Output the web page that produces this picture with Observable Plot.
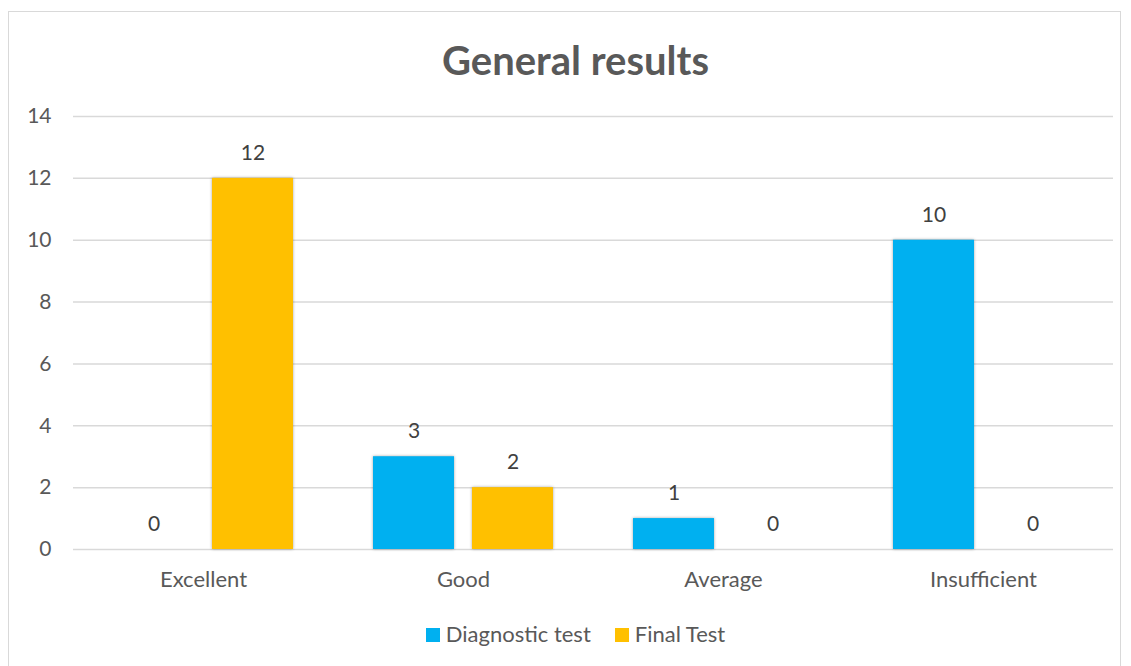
<!DOCTYPE html>
<html>
<head>
<meta charset="utf-8">
<script src="https://cdn.jsdelivr.net/npm/d3@7"></script>
<script src="https://cdn.jsdelivr.net/npm/@observablehq/plot@0.6"></script>
<style>
  html, body { margin: 0; padding: 0; background: #fff; }
  body { width: 1131px; height: 666px; position: relative; overflow: hidden; font-family: Lato, "Open Sans", sans-serif; }
  #frame { position: absolute; left: 8px; top: 11px; width: 1113px; height: 670px; border: 1.5px solid #d9d9d9; box-sizing: border-box; }
  #title { position: absolute; left: 0; width: 1151px; top: 34px; text-align: center; font-size: 40px; font-weight: bold; color: #595959; line-height: 52px; }
  #chart { position: absolute; left: 0; top: 90px; }
  #legend { position: absolute; left: 0; width: 1151px; top: 620px; text-align: center; font-size: 22px; color: #595959; line-height: 28px; }
  .sw { display: inline-block; width: 14px; height: 14px; vertical-align: 0px; margin-right: 6px; }
  .item { margin: 0 12px; }
  .bars rect { filter: drop-shadow(0px 0px 1.5px rgba(0,0,0,0.35)); }
</style>
</head>
<body>
<div id="frame"></div>
<div id="title">General results</div>
<div id="chart"></div>
<div id="legend"></div>
<script>
const categories = ["Excellent", "Good", "Average", "Insufficient"];
const seriesNames = ["Diagnostic test", "Final Test"];
const diagnosticValues = [0, 3, 1, 10];
const finalValues = [12, 2, 0, 0];
const yTicks = [0, 2, 4, 6, 8, 10, 12, 14];
const colors = ["#00B0F0", "#FFC000"];

const data = [];
categories.forEach((c, i) => {
  data.push({cat: c, series: seriesNames[0], value: diagnosticValues[i]});
  data.push({cat: c, series: seriesNames[1], value: finalValues[i]});
});

const chart = Plot.plot({
  width: 1131,
  height: 515,
  marginLeft: 72,
  marginRight: 18,
  marginTop: 26,
  marginBottom: 56,
  style: {fontFamily: "Lato, 'Open Sans', sans-serif", fontSize: "21px", color: "#595959", background: "transparent", overflow: "visible"},
  fx: {domain: categories, padding: 0, label: null},
  x: {domain: seriesNames, paddingInner: 0.182, paddingOuter: 0.404, axis: null},
  y: {domain: [0, 14], axis: null},
  color: {domain: seriesNames, range: colors},
  marks: [
    Plot.ruleY(yTicks, {stroke: "#d9d9d9", strokeWidth: 1.5}),
    Plot.axisY(yTicks, {anchor: "left", tickSize: 0, tickPadding: 22, fontSize: 21, fill: "#595959", label: null}),
    Plot.barY(data, {fx: "cat", x: "series", y: "value", fill: "series", className: "bars"}),
    Plot.text(data, {fx: "cat", x: "series", y: "value", text: d => String(d.value), dy: -25, fontSize: 21, fill: "#404040"}),
    Plot.axisFx({anchor: "bottom", tickSize: 0, tickPadding: 22, fontSize: 22, fill: "#595959", label: null})
  ]
});
document.getElementById("chart").appendChild(chart);

const legend = document.getElementById("legend");
seriesNames.forEach((s, i) => {
  const span = document.createElement("span");
  span.className = "item";
  span.innerHTML = `<span class="sw" style="background:${colors[i]}"></span>${s}`;
  legend.appendChild(span);
});
</script>
</body>
</html>
